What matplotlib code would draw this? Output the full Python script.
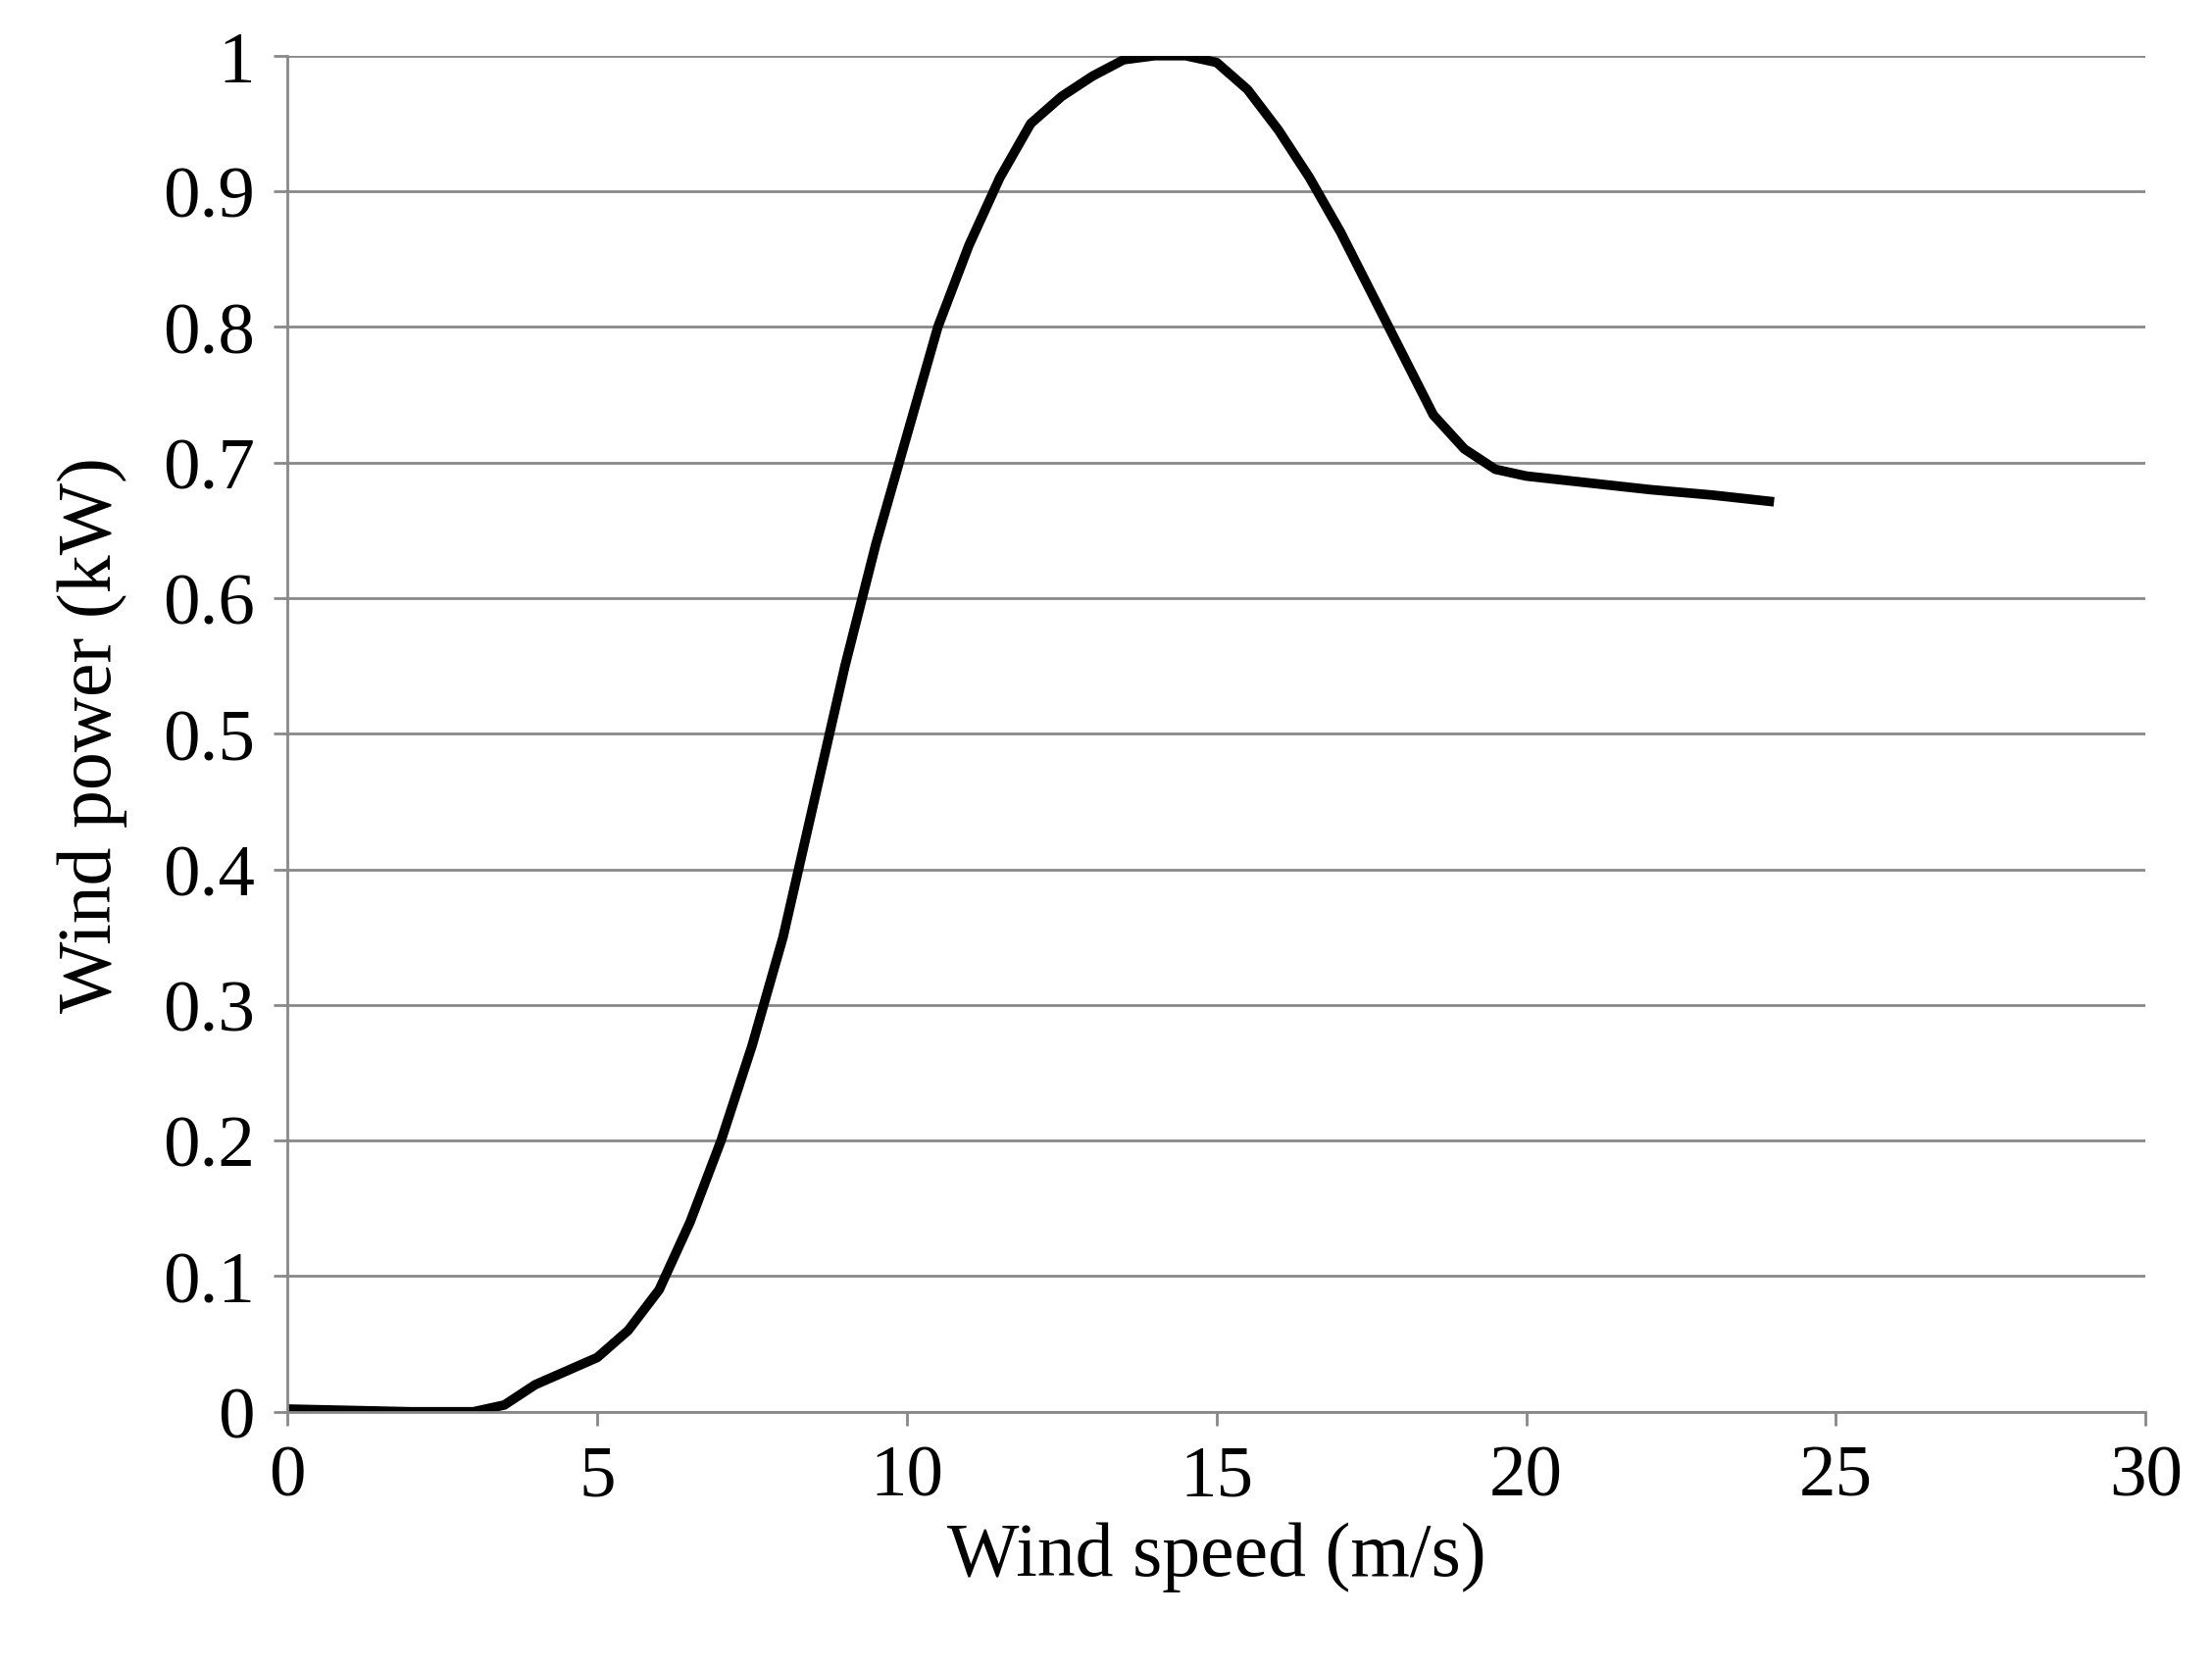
import matplotlib
matplotlib.use('Agg')
import matplotlib.pyplot as plt

speed = [0, 1, 2, 3, 3.5, 4, 4.5, 5, 5.5, 6, 6.5, 7, 7.5, 8, 8.5, 9, 9.5, 10, 10.5, 11,
         11.5, 12, 12.5, 13, 13.5, 14, 14.5, 15, 15.5, 16, 16.5, 17, 17.5, 18, 18.5, 19,
         19.5, 20, 21, 22, 23, 24]
power = [0.002, 0.001, 0, 0, 0.005, 0.02, 0.03, 0.04, 0.06, 0.09, 0.14, 0.2, 0.27, 0.35,
         0.45, 0.55, 0.64, 0.72, 0.8, 0.86, 0.91, 0.95, 0.97, 0.985, 0.997, 1.0, 1.0, 0.995,
         0.975, 0.945, 0.91, 0.87, 0.825, 0.78, 0.735, 0.71, 0.695, 0.69, 0.685, 0.68,
         0.676, 0.671]
xticks = [0, 5, 10, 15, 20, 25, 30]
yticks = [0, 0.1, 0.2, 0.3, 0.4, 0.5, 0.6, 0.7, 0.8, 0.9, 1]
ylabels = ['0', '0.1', '0.2', '0.3', '0.4', '0.5', '0.6', '0.7', '0.8', '0.9', '1']

plt.rcParams['font.family'] = ['Liberation Serif', 'DejaVu Serif']
fig = plt.figure(figsize=(22.56, 16.99), dpi=100)
ax = fig.add_axes([0.130, 0.152, 0.840, 0.814])

ax.plot(speed, power, color='black', lw=7, solid_joinstyle='round', solid_capstyle='butt')
ax.set_xlim(0, 30)
ax.set_ylim(0, 1)
ax.set_xticks(xticks)
ax.set_yticks(yticks)
ax.set_yticklabels(ylabels)
ax.grid(axis='y', color='#888888', lw=2)
ax.set_axisbelow(True)
for s in ['top', 'right']:
    ax.spines[s].set_visible(False)
for s in ['left', 'bottom']:
    ax.spines[s].set_color('#888888')
    ax.spines[s].set_linewidth(2)
ax.tick_params(axis='both', labelsize=54, color='#888888', width=2, length=10, pad=14)
ax.set_xlabel('Wind speed (m/s)', fontsize=56, labelpad=8)
ax.set_ylabel('Wind power (kW)', fontsize=56, labelpad=26)

fig.savefig('out.png', dpi=100)
